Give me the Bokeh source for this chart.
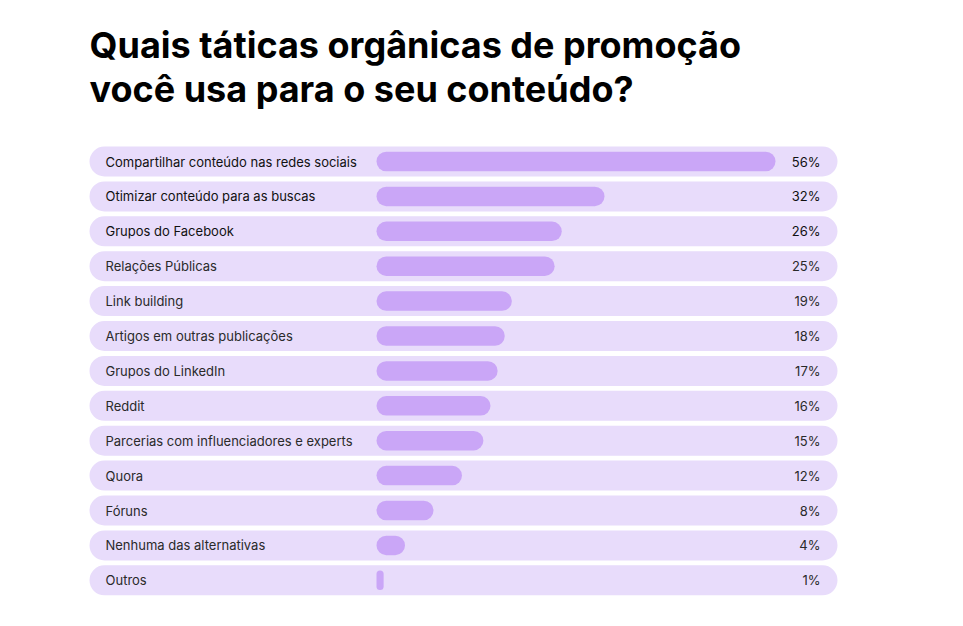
from bokeh.plotting import figure
from bokeh.models import Range1d, Label, ColumnDataSource
from bokeh.embed import file_html
from bokeh.resources import INLINE
from bokeh.core.properties import value

# ---- data ----
categories = [
    "Compartilhar conteúdo nas redes sociais",
    "Otimizar conteúdo para as buscas",
    "Grupos do Facebook",
    "Relações Públicas",
    "Link building",
    "Artigos em outras publicações",
    "Grupos do LinkedIn",
    "Reddit",
    "Parcerias com influenciadores e experts",
    "Quora",
    "Fóruns",
    "Nenhuma das alternativas",
    "Outros",
]
values = [56, 32, 26, 25, 19, 18, 17, 16, 15, 12, 8, 4, 1]
pct_labels = [f"{v}%" for v in values]
title_lines = ["Quais táticas orgânicas de promoção", "você usa para o seu conteúdo?"]

# ---- layout ----
W, H = 947, 610
PX_PER_PCT = 7.125
ZERO_X = 376
ROW_H = 34.9
ROW0_Y = 161

x_start = -ZERO_X / PX_PER_PCT
x_end = (W - ZERO_X) / PX_PER_PCT
y_top = -ROW0_Y / ROW_H
y_bottom = (H - ROW0_Y) / ROW_H

def px_x(fig_px):
    return (fig_px - ZERO_X) / PX_PER_PCT

idx = list(range(len(categories)))
n = len(categories)
text_colors = ["#111111" if i < 3 else "#2a2a2a" for i in idx]

src = ColumnDataSource(dict(
    y=idx,
    value=values,
    cat=categories,
    pct=pct_labels,
    bg_left=[px_x(89)] * n,
    bg_right=[px_x(837)] * n,
    zero=[0] * n,
    lab_x=[px_x(105)] * n,
    pct_x=[px_x(820)] * n,
    tcol=text_colors,
))

p = figure(width=W, height=H, x_range=Range1d(x_start, x_end),
           y_range=Range1d(y_bottom, y_top), output_backend="svg",
           toolbar_location=None, min_border=0, background_fill_color="white",
           border_fill_color="white")
p.axis.visible = False
p.grid.visible = False
p.outline_line_color = None

p.hbar(y="y", left="bg_left", right="bg_right", height=30 / ROW_H, source=src,
       fill_color="#E8DCFB", line_color=None, border_radius=15)
p.hbar(y="y", left="zero", right="value", height=19.5 / ROW_H, source=src,
       fill_color="#CAA6F7", line_color=None, border_radius=10)

p.text(x="lab_x", y="y", text="cat", source=src, text_baseline="middle",
       text_align="left", text_font=value("Inter"), text_font_size="13px",
       text_color="tcol")
p.text(x="pct_x", y="y", text="pct", source=src, text_baseline="middle",
       text_align="right", text_font=value("Inter"), text_font_size="13px",
       text_color="tcol")

for line, ybase in zip(title_lines, [566, 522]):
    p.add_layout(Label(x=89, y=ybase, x_units="screen", y_units="screen",
                       text=line, text_font="Inter", text_font_size="36px",
                       text_font_style="bold", text_color="#000000",
                       text_baseline="alphabetic"))

open("out.html", "w").write(file_html(p, INLINE))
